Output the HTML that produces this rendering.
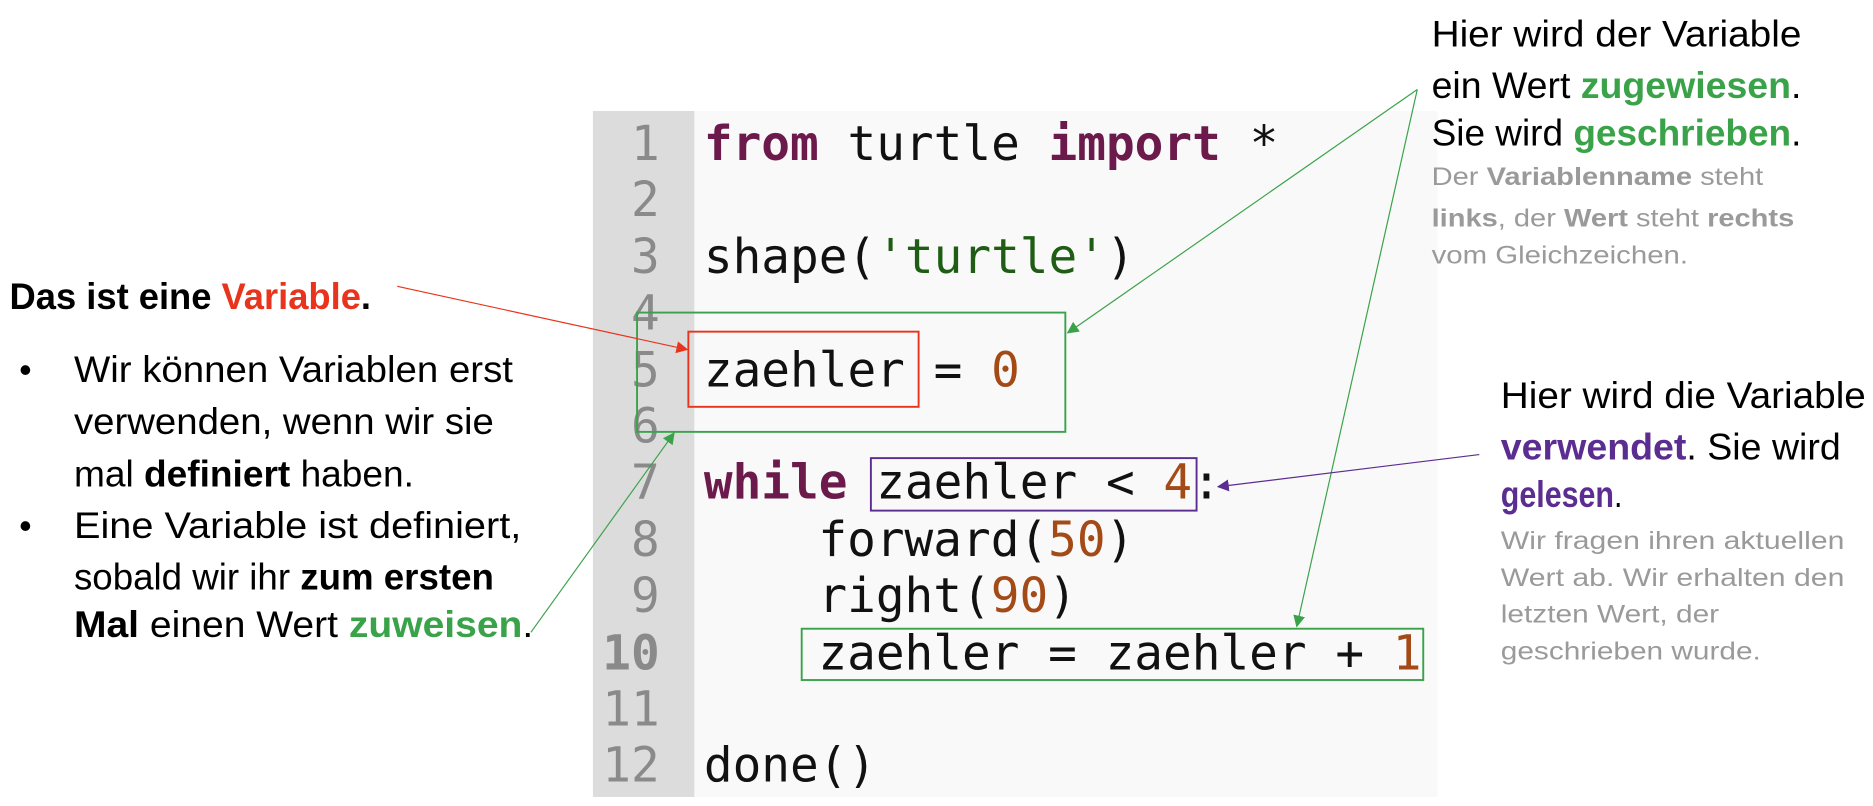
<!DOCTYPE html>
<html><head><meta charset="utf-8"><style>
html,body{margin:0;padding:0;background:#fff;}
svg{display:block}
.c{font-family:"DejaVu Sans Mono","Liberation Mono",monospace;font-size:40px;}
.n{font-family:"Liberation Sans Narrow","Liberation Sans",sans-serif;}
</style></head><body>
<svg width="1873" height="806" viewBox="0 0 1570 675.6" xmlns="http://www.w3.org/2000/svg">
<defs>
<marker id="ag" markerWidth="10" markerHeight="10" refX="9" refY="5" orient="auto" markerUnits="userSpaceOnUse"><path d="M0,0 L10,5 L0,10 z" fill="#3aa34a"/></marker>
<marker id="ar" markerWidth="10" markerHeight="10" refX="9" refY="5" orient="auto" markerUnits="userSpaceOnUse"><path d="M0,0 L10,5 L0,10 z" fill="#e8341c"/></marker>
<marker id="ap" markerWidth="10" markerHeight="10" refX="9" refY="5" orient="auto" markerUnits="userSpaceOnUse"><path d="M0,0 L10,5 L0,10 z" fill="#5c2d91"/></marker>
</defs>
<rect x="497" y="93" width="708" height="575" fill="#f9f9f9"/>
<rect x="497" y="93" width="85" height="575" fill="#dcdcdc"/>
<g class="c" fill="#8a8a8a" text-anchor="end">
<text x="553" y="134">1</text><text x="553" y="181">2</text><text x="553" y="229">3</text>
<text x="553" y="276">4</text><text x="553" y="324">5</text><text x="553" y="371">6</text>
<text x="553" y="418">7</text><text x="553" y="466">8</text><text x="553" y="513">9</text>
<text x="553" y="561" font-weight="bold">10</text><text x="553" y="608">11</text><text x="553" y="655">12</text>
</g>
<g class="c" fill="#111">
<text x="590" y="134"><tspan fill="#6b1a4b" font-weight="bold">from</tspan> turtle <tspan fill="#6b1a4b" font-weight="bold">import</tspan> *</text>
<text x="590" y="229">shape(<tspan fill="#1f5c14">'turtle'</tspan>)</text>
<text x="590" y="324">zaehler = <tspan fill="#a34a17">0</tspan></text>
<text x="590" y="418"><tspan fill="#6b1a4b" font-weight="bold">while</tspan> zaehler &lt; <tspan fill="#a34a17">4</tspan>:</text>
<text x="686" y="466">forward(<tspan fill="#a34a17">50</tspan>)</text>
<text x="686" y="513">right(<tspan fill="#a34a17">90</tspan>)</text>
<text x="686" y="561">zaehler = zaehler + <tspan fill="#a34a17">1</tspan></text>
<text x="590" y="655">done()</text>
</g>
<g fill="none" stroke-width="1.6">
<rect x="534" y="262" width="359" height="100" stroke="#3aa34a"/>
<rect x="577" y="278" width="193" height="63" stroke="#e8341c"/>
<rect x="730" y="384" width="273" height="44" stroke="#5c2d91"/>
<rect x="672" y="527" width="521" height="43" stroke="#3aa34a"/>
</g>
<g fill="none" stroke-width="1">
<line x1="333" y1="240" x2="576" y2="293" stroke="#e8341c" marker-end="url(#ar)"/>
<line x1="1188" y1="75" x2="895" y2="279" stroke="#3aa34a" marker-end="url(#ag)"/>
<line x1="1188" y1="75" x2="1087" y2="525" stroke="#3aa34a" marker-end="url(#ag)"/>
<line x1="445" y1="530" x2="565" y2="363" stroke="#3aa34a" marker-end="url(#ag)"/>
<line x1="1240" y1="381" x2="1021" y2="408" stroke="#5c2d91" marker-end="url(#ap)"/>
</g>
<g class="n" font-size="31" fill="#000">
<text x="8" y="259" font-weight="bold" textLength="303" lengthAdjust="spacingAndGlyphs">Das ist eine <tspan fill="#e8341c">Variable</tspan>.</text>
<text x="16" y="320" font-size="30">•</text>
<text x="16" y="451" font-size="30">•</text>
<text x="62" y="320" textLength="368" lengthAdjust="spacingAndGlyphs">Wir können Variablen erst</text>
<text x="62" y="364" textLength="352" lengthAdjust="spacingAndGlyphs">verwenden, wenn wir sie</text>
<text x="62" y="408" textLength="285" lengthAdjust="spacingAndGlyphs">mal <tspan font-weight="bold">definiert</tspan> haben.</text>
<text x="62" y="451" textLength="375" lengthAdjust="spacingAndGlyphs">Eine Variable ist definiert,</text>
<text x="62" y="494" textLength="352" lengthAdjust="spacingAndGlyphs">sobald wir ihr <tspan font-weight="bold">zum ersten</tspan></text>
<text x="62" y="534" textLength="385" lengthAdjust="spacingAndGlyphs"><tspan font-weight="bold">Mal</tspan> einen Wert <tspan fill="#3aa34a" font-weight="bold">zuweisen</tspan>.</text>

<text x="1200" y="39" textLength="310" lengthAdjust="spacingAndGlyphs">Hier wird der Variable</text>
<text x="1200" y="82" textLength="310" lengthAdjust="spacingAndGlyphs">ein Wert <tspan fill="#3aa34a" font-weight="bold">zugewiesen</tspan>.</text>
<text x="1200" y="122" textLength="310" lengthAdjust="spacingAndGlyphs">Sie wird <tspan fill="#3aa34a" font-weight="bold">geschrieben</tspan>.</text>
<g font-size="21" fill="#9a9a9a">
<text x="1200" y="155" textLength="278" lengthAdjust="spacingAndGlyphs">Der <tspan font-weight="bold">Variablenname</tspan> steht</text>
<text x="1200" y="190" textLength="304" lengthAdjust="spacingAndGlyphs"><tspan font-weight="bold">links</tspan>, der <tspan font-weight="bold">Wert</tspan> steht <tspan font-weight="bold">rechts</tspan></text>
<text x="1200" y="221" textLength="215" lengthAdjust="spacingAndGlyphs">vom Gleichzeichen.</text>
</g>
<text x="1258" y="342" textLength="306" lengthAdjust="spacingAndGlyphs">Hier wird die Variable</text>
<text x="1258" y="385" textLength="285" lengthAdjust="spacingAndGlyphs"><tspan fill="#5c2d91" font-weight="bold">verwendet</tspan>. Sie wird</text>
<text x="1258" y="425" textLength="102" lengthAdjust="spacingAndGlyphs"><tspan fill="#5c2d91" font-weight="bold">gelesen</tspan>.</text>
<g font-size="21" fill="#9a9a9a">
<text x="1258" y="460" textLength="288" lengthAdjust="spacingAndGlyphs">Wir fragen ihren aktuellen</text>
<text x="1258" y="491" textLength="288" lengthAdjust="spacingAndGlyphs">Wert ab. Wir erhalten den</text>
<text x="1258" y="522" textLength="183" lengthAdjust="spacingAndGlyphs">letzten Wert, der</text>
<text x="1258" y="553" textLength="218" lengthAdjust="spacingAndGlyphs">geschrieben wurde.</text>
</g>
</g>
</svg>
</body></html>
